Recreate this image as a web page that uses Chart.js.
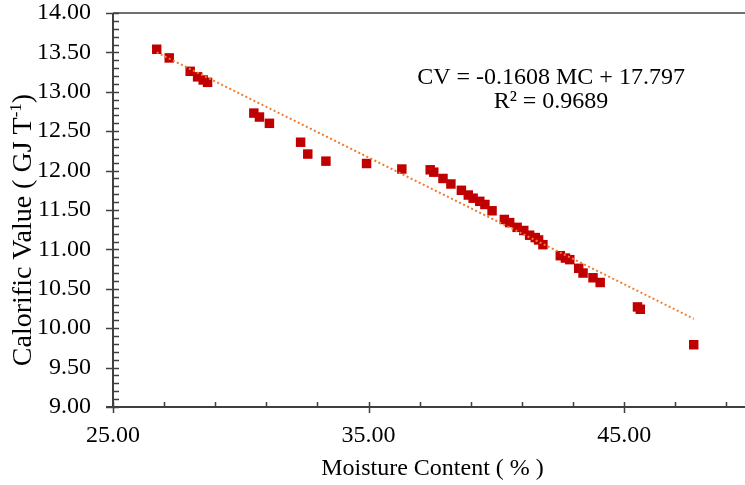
<!DOCTYPE html>
<html>
<head>
<meta charset="utf-8">
<script src="https://cdn.jsdelivr.net/npm/chart.js@4.4.1/dist/chart.umd.min.js"></script>
<style>
  html, body { margin: 0; padding: 0; background: #fff; overflow: hidden; }
  #wrap { width: 745px; height: 485px; overflow: hidden; }
</style>
</head>
<body>
<div id="wrap"><canvas id="myChart" width="760" height="485"></canvas></div>
<script>
// values
const moisture = [
  26.71, 27.20, 28.02, 28.31, 28.53, 28.70, 30.51, 30.73, 31.12, 32.34,
  32.62, 33.33, 34.92, 36.30, 37.41, 37.55, 37.91, 38.22, 38.63, 38.90,
  39.09, 39.35, 39.55, 39.83, 40.31, 40.52, 40.81, 41.07, 41.30, 41.52,
  41.65, 41.82, 42.50, 42.70, 42.87, 43.22, 43.39, 43.78, 44.06, 45.52,
  45.63, 47.72,
];
const calorific = [
  13.54, 13.43, 13.26, 13.19, 13.15, 13.12, 12.73, 12.68, 12.60, 12.36,
  12.21, 12.12, 12.09, 12.02, 12.01, 11.98, 11.90, 11.83, 11.75, 11.69,
  11.65, 11.61, 11.57, 11.49, 11.38, 11.34, 11.28, 11.24, 11.18, 11.15,
  11.12, 11.06, 10.92, 10.89, 10.87, 10.76, 10.70, 10.64, 10.58, 10.27,
  10.24, 9.79,
];
// linear trendline end points
const trendX = [26.71, 47.72];
const trendY = [13.50, 10.12];

const xTicks = [25, 35, 45];
const yTicks = [9.0, 9.5, 10.0, 10.5, 11.0, 11.5, 12.0, 12.5, 13.0, 13.5, 14.0];
const xMinorStep = 2;
const yMinorStep = 0.1;

const equationLines = ["CV = -0.1608 MC + 17.797", "R\u00b2 = 0.9689"];
const xTitle = "Moisture Content ( % )";

const FONT = "'Liberation Serif', 'Times New Roman', serif";
const AXIS = "#404040";

const ctx = document.getElementById("myChart").getContext("2d");

const axesPlugin = {
  id: "excelAxes",
  afterDraw(chart) {
    const c = chart.ctx;
    const xs = chart.scales.x;
    const ys = chart.scales.y;
    const { left, right, top, bottom } = chart.chartArea;
    c.save();
    c.strokeStyle = AXIS;

    // top border
    c.lineWidth = 1.5;
    c.beginPath();
    c.moveTo(left, top);
    c.lineTo(right, top);
    c.stroke();

    c.lineWidth = 2;
    c.beginPath();
    c.moveTo(left, top);
    c.lineTo(left, bottom);
    c.moveTo(left - 7, bottom);
    c.lineTo(right, bottom);
    c.stroke();

    // x ticks
    c.lineWidth = 1.5;
    c.beginPath();
    for (let v = xs.min; v <= xs.max + 1e-9; v += xMinorStep) {
      const px = Math.round(xs.getPixelForValue(v)) + 0.5;
      c.moveTo(px, bottom - 5);
      c.lineTo(px, bottom);
    }
    xTicks.forEach((v) => {
      const px = Math.round(xs.getPixelForValue(v)) + 0.5;
      c.moveTo(px, bottom - 5);
      c.lineTo(px, bottom + 6);
    });
    // y ticks
    for (let k = 0; k <= Math.round((ys.max - ys.min) / yMinorStep); k++) {
      const py = Math.round(ys.getPixelForValue(ys.min + k * yMinorStep)) + 0.5;
      c.moveTo(left, py);
      c.lineTo(left + 6, py);
    }
    yTicks.forEach((v) => {
      const py = Math.round(ys.getPixelForValue(v)) + 0.5;
      c.moveTo(left - 7, py);
      c.lineTo(left + 6, py);
    });
    c.stroke();

    // axis titles
    c.fillStyle = "#000";
    c.font = "24px " + FONT;
    c.textAlign = "center";
    c.textBaseline = "alphabetic";
    c.fillText(xTitle, (left + right) / 2, 475);

    c.save();
    c.translate(31, 230);
    c.rotate(-Math.PI / 2);
    const main = "Calorific Value ( GJ T";
    const sup = "-1";
    const end = ")";
    c.font = "28px " + FONT;
    const wMain = c.measureText(main).width;
    const wEnd = c.measureText(end).width;
    c.font = "17px " + FONT;
    const wSup = c.measureText(sup).width;
    let x0 = -(wMain + wSup + wEnd) / 2;
    c.textAlign = "left";
    c.font = "28px " + FONT;
    c.fillText(main, x0, 0);
    c.font = "17px " + FONT;
    c.fillText(sup, x0 + wMain, -10);
    c.font = "28px " + FONT;
    c.fillText(end, x0 + wMain + wSup, 0);
    c.restore();

    // trendline label
    c.font = "24px " + FONT;
    c.textAlign = "center";
    c.fillText(equationLines[0], 551, 84);
    c.fillText(equationLines[1], 551, 108);
    c.restore();
  },
};

const myChart = new Chart(ctx, {
  type: "scatter",
  data: {
    datasets: [
      {
        label: "Linear trend",
        type: "line",
        data: trendX.map((x, i) => ({ x: x, y: trendY[i] })),
        borderColor: "#ED7D31",
        borderWidth: 2,
        borderDash: [2, 2.5],
        pointRadius: 0,
        fill: false,
      },
      {
        label: "Calorific value",
        data: moisture.map((x, i) => ({ x: x, y: calorific[i] })),
        pointStyle: "rect",
        pointRadius: 6.7,
        pointBackgroundColor: "#C00000",
        pointBorderColor: "#C00000",
        pointBorderWidth: 0,
      },
    ],
  },
  options: {
    responsive: false,
    animation: false,
    devicePixelRatio: 1,
    layout: { padding: { top: 13, right: 8, left: 0, bottom: 0 } },
    plugins: {
      legend: { display: false },
      tooltip: { enabled: false },
    },
    scales: {
      x: {
        type: "linear",
        min: 25,
        max: 50,
        border: { display: false },
        grid: { display: false, drawTicks: false },
        afterBuildTicks: (scale) => {
          scale.ticks = xTicks.map((v) => ({ value: v }));
        },
        afterFit: (scale) => {
          scale.height = 78;
          scale.paddingLeft = 0;
          scale.paddingRight = 0;
        },
        ticks: {
          autoSkip: false,
          maxRotation: 0,
          padding: 14,
          color: "#000",
          font: { family: FONT, size: 24 },
          callback: (v) => Number(v).toFixed(2),
        },
      },
      y: {
        type: "linear",
        min: 9,
        max: 14,
        border: { display: false },
        grid: { display: false, drawTicks: false },
        afterBuildTicks: (scale) => {
          scale.ticks = yTicks.map((v) => ({ value: v }));
        },
        afterFit: (scale) => {
          scale.width = 113;
          scale.paddingTop = 0;
          scale.paddingBottom = 0;
        },
        ticks: {
          autoSkip: false,
          padding: 22,
          color: "#000",
          font: { family: FONT, size: 24 },
          callback: (v) => Number(v).toFixed(2),
        },
      },
    },
  },
  plugins: [axesPlugin],
});
</script>
</body>
</html>
